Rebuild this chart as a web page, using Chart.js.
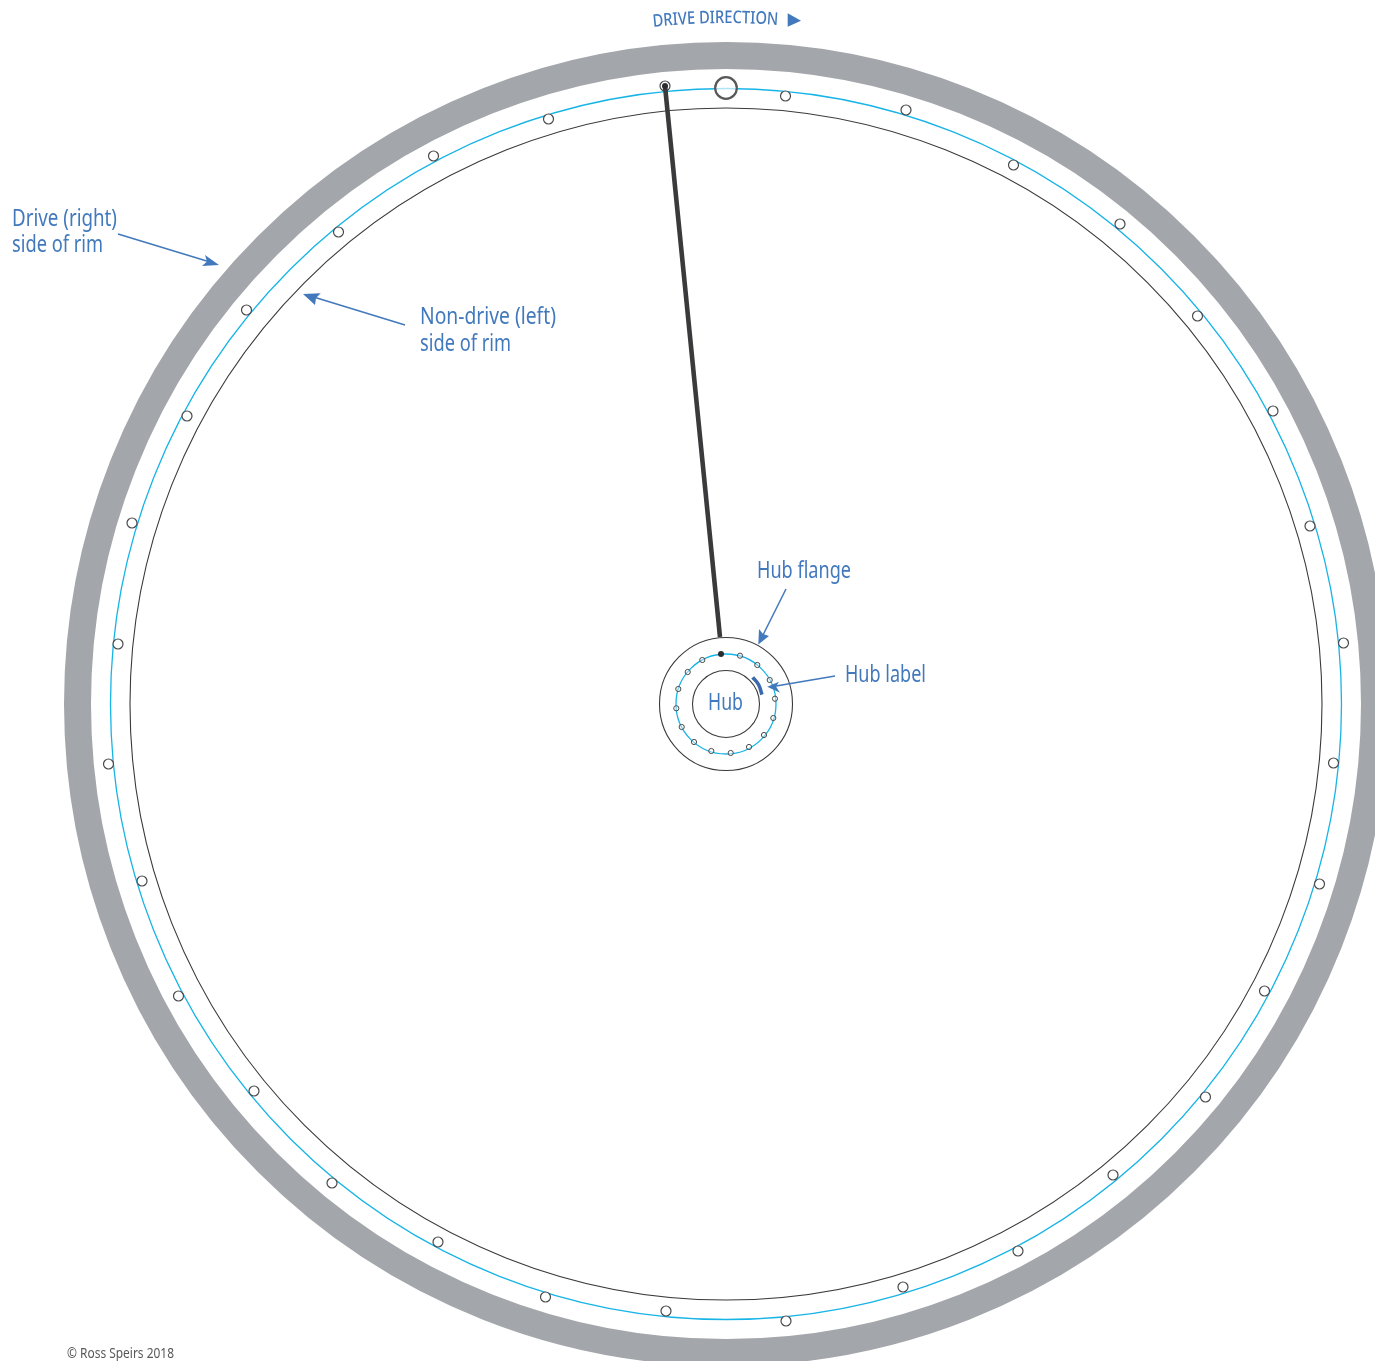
<!DOCTYPE html>
<html>
<head>
<meta charset="utf-8">
<title>Wheel diagram</title>
<script src="https://cdn.jsdelivr.net/npm/chart.js@4"></script>
<style>
  html, body { margin: 0; padding: 0; background: #fff; }
  canvas { display: block; }
</style>
</head>
<body>
<canvas id="wheel" width="1375" height="1361"></canvas>
<script>
const centreX = [726];
const centreY = [704];

const rimHoleX = [785.5, 906, 1013.5, 1120, 1197.5, 1273, 1310, 1343.5, 1333.5, 1319.5, 1264.5, 1205.5, 1113, 1018, 903, 786, 666, 545.5, 438, 332, 254, 178.5, 142, 108.5, 118, 132, 187, 246.5, 338.5, 433.5, 548.5, 665];
const rimHoleY = [96, 110, 165, 224, 316, 411, 526, 643, 763, 884, 991, 1097, 1175, 1251, 1287, 1321, 1311, 1297, 1242, 1183, 1091, 996, 881, 764, 644, 523, 416, 310, 232, 156, 119, 86];

const hubHoleX = [740, 757.3, 769.7, 775, 773.3, 764, 749, 730.7, 711.3, 694, 681.7, 676.3, 678.3, 687.7, 702.3];
const hubHoleY = [655.7, 665, 680, 698.7, 718, 735, 747, 753, 751, 742, 727, 708.3, 689, 672, 660];

const valveX = [726];
const valveY = [88];
const spokeX = [665, 720];
const spokeY = [86, 637];
const spokeNippleX = [721, 665];
const spokeNippleY = [654, 86];

const hubLabelX = [752.7, 758.5, 762];
const hubLabelY = [677.3, 684.5, 694.7];

// leader lines: start, end
const leaders = [
  { x: [118, 210], y: [234, 262] },
  { x: [405, 312], y: [325, 296.5] },
  { x: [786, 763], y: [589, 635] },
  { x: [835, 776], y: [676, 686] },
];
// arrow heads: tip, barb, notch, barb
const arrowHeads = [
  { x: [219, 205, 207, 202], y: [265, 255, 261.5, 266] },
  { x: [303, 320.7, 316, 315], y: [294, 293.3, 298, 305] },
  { x: [758.3, 759, 763, 769], y: [644.5, 629, 634, 636] },
  { x: [767.3, 779, 776, 780], y: [686.7, 681.7, 686.5, 692.7] },
  { x: [787.7, 801, 787.7], y: [13.3, 20.7, 26.7] },
];

const labels = ["Drive (right)", "side of rim", "Non-drive (left)", "side of rim", "Hub flange", "Hub label", "Hub"];
const labelX = [12, 12, 420, 420, 757, 845, 708];
const labelY = [226, 252, 324, 351, 578, 682, 710];
const labelRight = [117, 103, 556, 511, 851, 926, 743];

const creditText = "© Ross Speirs 2018";
const directionText = "DRIVE DIRECTION";

const BLUE = "#4279bd";
const CYAN = "#17b4e6";
const DARK = "#3a3a3c";
const GREY = "#a3a6aa";

function zip(xs, ys) {
  return xs.map((x, i) => ({ x: x, y: ys[i] }));
}

function ring(radius, width, color) {
  return {
    data: zip(centreX, centreY),
    showLine: false,
    pointRadius: radius,
    pointBorderWidth: width,
    pointBorderColor: color,
    pointBackgroundColor: "transparent",
  };
}

function holes(xs, ys, radius, width, fill) {
  return {
    data: zip(xs, ys),
    showLine: false,
    pointRadius: radius,
    pointBorderWidth: width,
    pointBorderColor: "#4a4a4c",
    pointBackgroundColor: fill,
  };
}

function line(xs, ys, color, width, extra) {
  return Object.assign({
    data: zip(xs, ys),
    showLine: true,
    borderColor: color,
    borderWidth: width,
    pointRadius: 0,
  }, extra || {});
}

// Chart.js paints the first dataset last, so top-most marks come first here
const datasets = [
  ...arrowHeads.map((a) => line(a.x, a.y, BLUE, 0, { fill: "shape", backgroundColor: BLUE })),
  ...leaders.map((l) => line(l.x, l.y, BLUE, 1.6)),
  line(hubLabelX, hubLabelY, "#3a68ad", 3.6, { tension: 0.4 }),
  {
    data: zip(spokeNippleX, spokeNippleY),
    showLine: false,
    pointRadius: 3,
    pointBorderWidth: 0,
    pointBackgroundColor: "#2c2c2e",
  },
  line(spokeX, spokeY, DARK, 4.6),
  holes(hubHoleX, hubHoleY, 2.6, 1, "rgba(255,255,255,0.4)"),
  holes(rimHoleX, rimHoleY, 5, 1.2, "#fff"),
  {
    data: zip(valveX, valveY),
    showLine: false,
    pointRadius: 10.8,
    pointBorderWidth: 2.2,
    pointBorderColor: "#58585a",
    pointBackgroundColor: "rgba(255,255,255,0.65)",
  },
  ring(33.5, 1.1, DARK),
  ring(50, 1.3, CYAN),
  ring(66.5, 1.1, DARK),
  ring(596, 1.1, DARK),
  ring(615.5, 1.3, CYAN),
  ring(648.5, 27, GREY),
];

const textPlugin = {
  id: "wheelText",
  afterDatasetsDraw(chart) {
    const ctx = chart.ctx;
    const sx = chart.scales.x;
    const sy = chart.scales.y;

    ctx.save();
    ctx.fillStyle = BLUE;
    ctx.textBaseline = "alphabetic";
    ctx.font = "23px 'Noto Sans'";
    labels.forEach((text, i) => {
      const x = sx.getPixelForValue(labelX[i]);
      const y = sy.getPixelForValue(labelY[i]);
      const want = sx.getPixelForValue(labelRight[i]) - x;
      ctx.save();
      ctx.translate(x, y);
      ctx.scale(want / ctx.measureText(text).width, 1);
      ctx.fillText(text, 0, 0);
      ctx.restore();
    });

    // credit line
    ctx.fillStyle = "#58585a";
    ctx.font = "13.5px 'Noto Sans'";
    ctx.save();
    ctx.translate(sx.getPixelForValue(67), sy.getPixelForValue(1358));
    ctx.scale(107 / ctx.measureText(creditText).width, 1);
    ctx.fillText(creditText, 0, 0);
    ctx.restore();

    // drive direction follows the curve of the rim
    ctx.fillStyle = BLUE;
    ctx.font = "500 17.5px 'Noto Sans'";
    const squeeze = 125 / ctx.measureText(directionText).width;
    const radius = 681;
    const cx = sx.getPixelForValue(centreX[0]);
    const cy = sy.getPixelForValue(centreY[0]);
    let along = 653 - cx;
    for (const ch of directionText) {
      const w = ctx.measureText(ch).width * squeeze;
      const a = (along + w / 2) / radius;
      ctx.save();
      ctx.translate(cx + radius * Math.sin(a), cy - radius * Math.cos(a));
      ctx.rotate(a);
      ctx.scale(squeeze, 1);
      ctx.textAlign = "center";
      ctx.fillText(ch, 0, 0);
      ctx.restore();
      along += w;
    }
    ctx.restore();
  },
};

new Chart(document.getElementById("wheel").getContext("2d"), {
  type: "scatter",
  data: { datasets: datasets },
  options: {
    responsive: false,
    animation: false,
    events: [],
    // autoPadding would reserve room for the big ring points and shrink the plot to nothing
    layout: { autoPadding: false, padding: 0 },
    plugins: { legend: { display: false }, tooltip: { enabled: false } },
    scales: {
      x: { type: "linear", display: false, min: 0, max: 1375 },
      y: { type: "linear", display: false, min: 0, max: 1361, reverse: true },
    },
  },
  plugins: [textPlugin],
});
</script>
</body>
</html>
